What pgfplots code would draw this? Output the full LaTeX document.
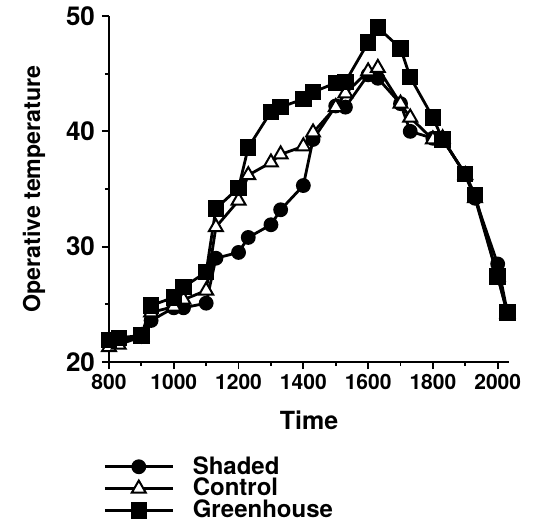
\documentclass[border=0pt]{standalone}
\usepackage{fontspec}
\setmainfont{TeX Gyre Heros}
\usepackage{pgfplots}
\pgfplotsset{compat=1.18}

\begin{document}
\begin{tikzpicture}
\begin{axis}[
  scale only axis,
  width=200pt, height=173pt,
  xmin=800, xmax=2035,
  ymin=20, ymax=50,
  axis lines=left,
  axis line style={-, line width=1pt},
  xtick={800,1000,...,2000},
  ytick={20,30,40,50},
  minor x tick num=1,
  minor y tick num=1,
  tick align=outside,
  major tick length=3.5pt,
  minor tick length=2pt,
  tick style={line width=0.9pt, black},
  /pgf/number format/assume math mode=true,
  /pgf/number format/1000 sep={},
  x tick label style={font=\fontsize{10.5}{10}\selectfont\bfseries, yshift=1pt},
  y tick label style={font=\fontsize{13}{13}\selectfont\bfseries},
  xlabel={Time},
  ylabel={Operative temperature},
  xlabel style={font=\fontsize{12.5}{13}\selectfont\bfseries, yshift=-4pt},
  ylabel style={font=\fontsize{11.6}{13}\selectfont\bfseries, yshift=3.5pt},
  clip=false,
  legend style={draw=none, fill=none, font=\fontsize{12}{12}\selectfont\bfseries,
    at={(axis description cs:-0.015,-0.26)}, anchor=north west,
    row sep=-3.5pt, inner sep=0pt, cells={anchor=west}},
  legend cell align=left,
  legend image code/.code={
    \draw[#1, mark repeat=2, mark phase=2] plot coordinates {(0pt,0pt) (17pt,0pt) (34pt,0pt)};
    \path[draw=none, fill=none] (0pt,-1pt) rectangle (42pt,1pt);
  },
  every axis plot/.append style={line width=1.4pt, black},
]
\addplot[mark=*, mark size=3pt, mark options={solid, fill=black}] coordinates {
  (800,21.6)(830,21.8)(900,22.2)(930,23.6)(1000,24.7)(1030,24.7)(1100,25.1)
  (1130,29.0)(1200,29.5)(1230,30.8)(1300,31.9)(1330,33.2)(1400,35.3)(1430,39.3)
  (1500,42.2)(1530,42.1)(1600,44.9)(1630,44.6)(1700,42.4)(1730,40.0)(1800,39.4)
  (1830,39.3)(1900,36.3)(1930,34.2)(2000,28.5)(2030,24.3)
};
\addlegendentry{Shaded}
\addplot[mark=triangle*, mark size=4pt, mark options={solid, fill=white, line width=1pt}] coordinates {
  (800,21.3)(830,21.5)(900,22.2)(930,24.3)(1000,24.8)(1030,25.4)(1100,26.2)
  (1130,31.7)(1200,34.0)(1230,36.2)(1300,37.3)(1330,38.0)(1400,38.7)(1430,39.9)
  (1500,42.1)(1530,43.3)(1600,45.2)(1630,45.5)(1700,42.4)(1730,41.2)(1800,39.3)
  (1830,39.4)(1900,36.2)(1930,34.2)(2000,27.4)(2030,24.2)
};
\addlegendentry{Control}
\addplot[mark=square*, mark size=3.4pt, mark options={solid, fill=black}] coordinates {
  (800,21.9)(830,22.1)(900,22.3)(930,24.9)(1000,25.6)(1030,26.5)(1100,27.8)
  (1130,33.3)(1200,35.1)(1230,38.6)(1300,41.7)(1330,42.1)(1400,42.8)(1430,43.4)
  (1500,44.2)(1530,44.3)(1600,47.7)(1630,49.0)(1700,47.2)(1730,44.7)(1800,41.2)
  (1830,39.3)(1900,36.3)(1930,34.5)(2000,27.4)(2030,24.3)
};
\addlegendentry{Greenhouse}
\end{axis}
\pgfresetboundingbox
\path[use as bounding box] (-54.5pt,-82pt) rectangle (212pt,181pt);
\end{tikzpicture}
\end{document}
